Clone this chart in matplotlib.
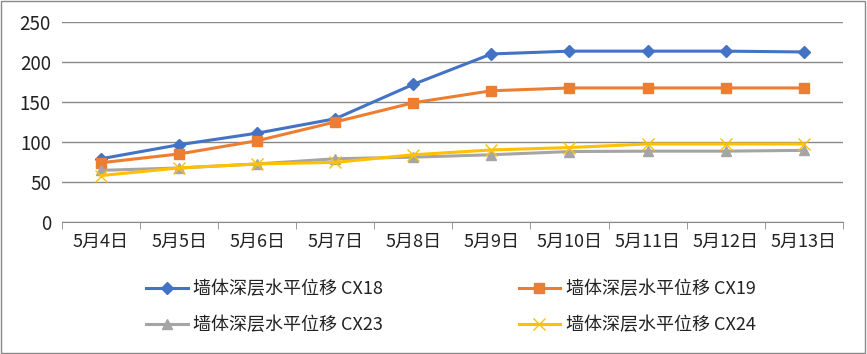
import matplotlib.pyplot as plt

plt.rcParams['font.family'] = ['Noto Sans CJK SC', 'DejaVu Sans']

dates = ['5月4日', '5月5日', '5月6日', '5月7日', '5月8日',
         '5月9日', '5月10日', '5月11日', '5月12日', '5月13日']
cx18 = [79, 96.5, 111, 129, 172, 210, 213.5, 213.5, 213.5, 212.5]
cx19 = [74, 85, 101.5, 125, 149, 164, 167.5, 167.5, 167.5, 167.5]
cx23 = [64.5, 67.5, 72.5, 79, 81, 84, 88, 88.5, 88.5, 89.5]
cx24 = [58, 67.5, 72.5, 74.5, 84, 90, 93, 97.5, 97.5, 97.5]

labels = ['墙体深层水平位移 CX18', '墙体深层水平位移 CX19',
          '墙体深层水平位移 CX23', '墙体深层水平位移 CX24']

fig = plt.figure(figsize=(8.67, 3.54), dpi=100)
ax = fig.add_axes([0.0715, 0.373, 0.9005, 0.565])

x = range(len(dates))
l18, = ax.plot(x, cx18, color='#4472C4', lw=2.2, marker='D', ms=6, label=labels[0])
l19, = ax.plot(x, cx19, color='#ED7D31', lw=2.2, marker='s', ms=7, label=labels[1])
l23, = ax.plot(x, cx23, color='#A5A5A5', lw=2.2, marker='^', ms=7, label=labels[2])
l24, = ax.plot(x, cx24, color='#FFC000', lw=2.2, marker='x', ms=8, mew=1, label=labels[3])

ax.set_xlim(-0.5, 9.5)
ax.set_ylim(0, 250)
ax.set_yticks(range(0, 251, 50))
ax.set_xticks(list(x))
ax.set_xticklabels(dates)
ax.grid(axis='y', color='#898989', lw=1)
ax.set_axisbelow(True)
for s in ['top', 'right', 'left']:
    ax.spines[s].set_visible(False)
ax.spines['bottom'].set_color('#898989')
ax.set_xticks([i - 0.5 for i in range(11)], minor=True)
ax.tick_params(axis='x', which='major', length=0, labelsize=13, pad=8, labelcolor='#222222')
ax.tick_params(axis='x', which='minor', length=5, color='#898989')
ax.tick_params(axis='y', length=0, labelsize=13.5, pad=8, labelcolor='#222222')

# order so rows read CX18 CX19 / CX23 CX24
fig.legend([l18, l23, l19, l24], [labels[0], labels[2], labels[1], labels[3]],
           loc='upper left', bbox_to_anchor=(0.15, 0.255), ncol=2,
           frameon=False, fontsize=13, handlelength=2.3, columnspacing=7.5,
           labelspacing=1.0, handletextpad=0.3, labelcolor='#222222')

fig.patches.append(plt.Rectangle((0.001, 0.002), 0.997, 0.995, transform=fig.transFigure,
                                 fill=False, edgecolor='#898989', lw=1))

fig.savefig('out.png', dpi=100)
